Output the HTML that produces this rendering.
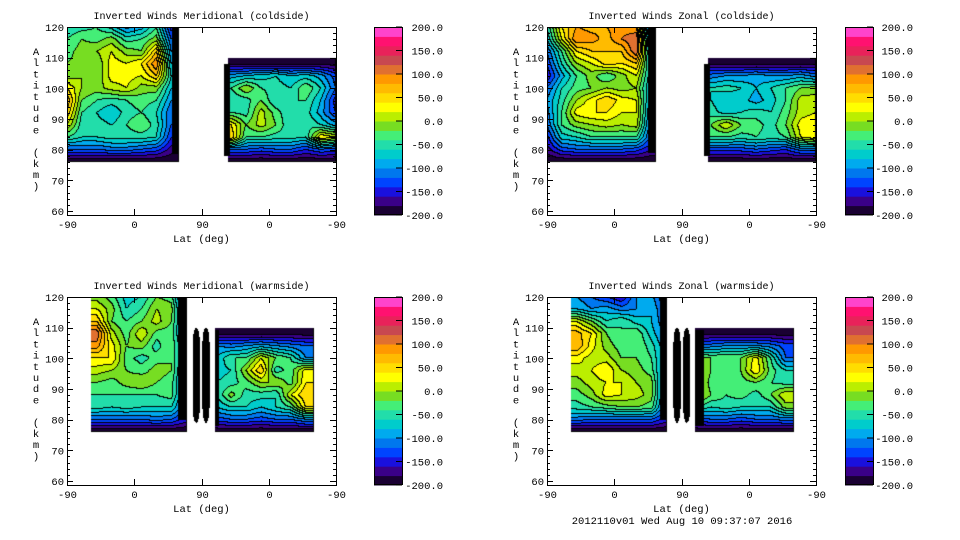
<!DOCTYPE html>
<html><head><meta charset="utf-8"><style>
body{margin:0;background:#fff;width:960px;height:540px;overflow:hidden;position:relative;font-family:"Liberation Mono",monospace;}
canvas{position:absolute;}
svg{position:absolute;left:0;top:0;}
</style></head><body>
<svg id="ax" width="960" height="540"></svg>
<script>
// colour bands, bottom (-200) to top (200)
const bandColors=["#1a0033","#3a0088","#1a10dd","#0044ff","#0077ee","#00aaee","#00cccc","#22ddaa","#44ee77","#77dd22","#bbee00","#ffff00","#ffdd00","#ffbb00","#ff9900","#e07030","#c84850","#e8225a","#ff1170","#ff44cc"];
const cbTickLabels=["200.0","150.0","100.0","50.0","0.0","-50.0","-100.0","-150.0","-200.0"];
const cbTickValues=[200,150,100,50,0,-50,-100,-150,-200];
const yTickValues=[60,70,80,90,100,110,120];
const xTickPos=[0,90,180,270,360];
const xTickLabels=["-90","0","90","0","-90"];
const leftAlts=[120,116,112,108,104,100,96,92,88,84,80,76];
const rightAlts=[108,104,100,96,92,88,84,80,76];
const cold8=[0,20,40,60,80,100,120,140];
const coldR=[220,240,260,280,300,320,340,360];
const warmL=[40,60,80,100,120,140,160];
const warmR=[200,220,240,260,280,300,320];
const m1L=[[-60,-50,-40,-70,-110,-90,-40,-150],[-40,-20,-30,-10,-50,-40,-10,-120],[-30,-10,0,20,-10,-20,60,-100],[-20,-10,-20,30,20,40,100,-80],[-10,0,-20,30,30,20,60,-60],[40,0,-10,10,20,-10,-10,-80],[80,-20,-40,-50,-40,-30,-40,-100],[60,-40,-60,-80,-50,-40,-60,-120],[20,-50,-50,-60,-40,-20,-50,-120],[-40,-60,-60,-50,-50,-50,-60,-140],[-120,-120,-120,-110,-110,-120,-130,-170],[-200,-200,-200,-200,-200,-200,-200,-200]];
const m1R=[[-190,-190,-190,-190,-190,-190,-190,-190],[-90,-80,-70,-60,-80,-70,-90,-130],[-40,0,-40,-50,-60,-20,-60,-120],[-60,-50,-20,-60,-40,-40,-80,-150],[-40,-50,10,-30,-60,-50,-90,-140],[40,-20,10,-20,-60,-40,-60,-90],[60,-40,-40,-50,-50,-60,40,20],[-120,-120,-130,-120,-120,-140,-120,-130],[-200,-200,-200,-200,-200,-200,-200,-200]];
const z1L=[[-60,40,80,70,80,90,80,-150],[-80,20,100,90,70,100,120,-120],[-120,-40,40,60,60,60,120,-100],[-140,-60,0,20,50,40,60,-80],[-160,-90,-40,-10,-40,-10,20,-80],[-120,-60,-30,-20,0,-10,0,-90],[-100,-50,0,30,60,30,20,-100],[-110,-40,30,40,40,20,20,-110],[-120,-40,-10,0,10,0,10,-120],[-150,-70,-60,-40,-40,-40,-40,-130],[-170,-130,-120,-120,-120,-120,-130,-160],[-200,-200,-200,-200,-200,-200,-200,-200]];
const z1R=[[-190,-190,-190,-190,-190,-190,-190,-190],[-110,-100,-100,-90,-100,-100,-90,-110],[-60,-50,-60,-80,-60,-40,-20,-10],[-60,-80,-70,-90,-70,-40,10,10],[-50,-70,-60,-50,-60,-30,10,20],[-20,20,-20,-30,-50,-20,30,40],[-40,-40,-50,-40,-50,-40,20,40],[-130,-130,-130,-120,-130,-140,-110,-110],[-200,-200,-200,-200,-200,-200,-200,-200]];
const m2L=[[-10,-30,-70,-60,-20,-30,-150],[20,-10,-60,-40,0,-10,-130],[60,-20,-40,-20,10,-20,-120],[120,10,-30,20,-30,-30,-110],[90,30,-20,-10,-50,-20,-100],[40,40,-30,-50,-30,-20,-100],[10,0,-20,-30,-10,-20,-110],[-20,-30,-10,0,-20,-30,-120],[-40,-40,-40,-40,-40,-30,-120],[-50,-60,-50,-60,-60,-60,-130],[-120,-120,-120,-120,-110,-120,-150],[-200,-200,-200,-200,-200,-200,-200]];
const m2R=[[-190,-190,-190,-190,-190,-190,-190],[-100,-110,-100,-90,-100,-110,-120],[-80,-40,-40,20,-20,-40,-100],[-70,-60,0,60,-50,-30,30],[-60,-50,-30,0,0,-30,40],[-60,-10,-50,-50,-60,20,60],[-80,-60,-60,-80,-60,-40,40],[-130,-120,-120,-130,-120,-120,-100],[-200,-200,-200,-200,-200,-200,-200]];
const z2L=[[-100,-120,-140,-160,-100,-90,-150],[-80,-100,-90,-110,-100,-80,-130],[20,-20,-60,-40,-70,-80,-120],[70,40,-20,-40,-20,-70,-110],[80,30,-10,-30,-20,-50,-100],[30,10,10,-20,-20,-40,-100],[10,20,40,0,-10,-30,-110],[-10,10,20,20,0,-10,-120],[-30,-10,30,20,10,-10,-120],[-50,-40,-30,-20,-20,-30,-130],[-110,-120,-120,-120,-120,-120,-150],[-200,-200,-200,-200,-200,-200,-200]];
const z2R=[[-190,-190,-190,-190,-190,-190,-190],[-120,-110,-100,-100,-100,-110,-130],[-10,-20,-20,-20,30,-40,-120],[20,-20,-30,-20,40,-30,-60],[20,-30,-30,-30,-20,-40,-50],[20,-20,-40,-30,-50,-20,20],[-40,-60,-50,-60,-60,-60,-10],[-130,-120,-120,-130,-120,-120,-110],[-200,-200,-200,-200,-200,-200,-200]];

const panels=[
 {name:"meridional-coldside",title:"Inverted Winds Meridional (coldside)",x:67,y:27,cb:374,lab:443,
  blocks:[{c0:0,c1:150,a0:76,a1:120,cols:cold8,alts:leftAlts,v:m1L},{c0:216,c1:360,a0:76,a1:110,cols:coldR,alts:rightAlts,v:m1R}],
  stripes:[[142,150,79,120,0],[210,218,78,108,0]]},
 {name:"zonal-coldside",title:"Inverted Winds Zonal (coldside)",x:547,y:27,cb:845,lab:913,
  blocks:[{c0:0,c1:146,a0:76,a1:120,cols:cold8,alts:leftAlts,v:z1L},{c0:216,c1:360,a0:76,a1:110,cols:coldR,alts:rightAlts,v:z1R}],
  stripes:[[136,146,79,120,0],[210,218,78,108,0]]},
 {name:"meridional-warmside",title:"Inverted Winds Meridional (warmside)",x:67,y:297,cb:374,lab:443,
  blocks:[{c0:32,c1:160,a0:76,a1:120,cols:warmL,alts:leftAlts,v:m2L},{c0:198,c1:330,a0:76,a1:110,cols:warmR,alts:rightAlts,v:m2R}],
  stripes:[[150,160,80,120,0],[168,178,79,110,1],[181,191,79,110,1],[198,204,78,109,0]]},
 {name:"zonal-warmside",title:"Inverted Winds Zonal (warmside)",x:547,y:297,cb:845,lab:913,
  blocks:[{c0:32,c1:161,a0:76,a1:120,cols:warmL,alts:leftAlts,v:z2L},{c0:198,c1:330,a0:76,a1:110,cols:warmR,alts:rightAlts,v:z2R}],
  stripes:[[152,161,80,120,0],[169,179,79,110,1],[182,192,79,110,1],[198,210,78,109,0]]}
];
const W=269,H=188,ALT_MIN=58.7,ALT_MAX=120;
const NS="http://www.w3.org/2000/svg";
const svg=document.getElementById('ax');
function sv(tag,attrs,parent){const e=document.createElementNS(NS,tag);for(const k in attrs)e.setAttribute(k,attrs[k]);(parent||svg).appendChild(e);return e;}
function xScale(p,c){return p.x+c/360*W;}
function yScale(p,a){return p.y+(ALT_MAX-a)/(ALT_MAX-ALT_MIN)*H;}
function seg(arr,x,desc){const n=arr.length;if(desc){if(x>=arr[0])return[0,0,0];if(x<=arr[n-1])return[n-1,n-1,0];for(let i=0;i<n-1;i++)if(x<=arr[i]&&x>=arr[i+1])return[i,i+1,(arr[i]-x)/(arr[i]-arr[i+1])];}
 else{if(x<=arr[0])return[0,0,0];if(x>=arr[n-1])return[n-1,n-1,0];for(let i=0;i<n-1;i++)if(x>=arr[i]&&x<=arr[i+1])return[i,i+1,(x-arr[i])/(arr[i+1]-arr[i])];}return[0,0,0];}
function valueAt(b,c,a){const[ci,cj,ct]=seg(b.cols,c,false);const[ri,rj,rt]=seg(b.alts,a,true);
 const v00=b.v[ri][ci],v01=b.v[ri][cj],v10=b.v[rj][ci],v11=b.v[rj][cj];
 return (v00*(1-ct)+v01*ct)*(1-rt)+(v10*(1-ct)+v11*ct)*rt;}
function band(v){return Math.max(0,Math.min(19,Math.floor((v+200)/20)));}
function inStripe(s,c,a){if(c<s[0]||c>s[1]||a<s[2]||a>s[3])return false;
 if(!s[4])return true;const cx=(s[0]+s[1])/2,rx=(s[1]-s[0])/2,cy=(s[2]+s[3])/2,ry=(s[3]-s[2])/2;
 const dx=(c-cx)/rx,dy=(a-cy)/ry;return dx*dx*1+Math.pow(Math.abs(dy),6)<=1;}

panels.forEach((p,pi)=>{
 const cv=document.createElement('canvas');cv.width=W;cv.height=H;cv.style.left=p.x+'px';cv.style.top=p.y+'px';
 
 
 document.body.insertBefore(cv,svg);
 const ctx=cv.getContext('2d');const img=ctx.createImageData(W,H);
 const B=new Int16Array(W*H).fill(-1);
 for(let py=0;py<H;py++){const a=ALT_MAX-(py+0.5)/H*(ALT_MAX-ALT_MIN);
  for(let px=0;px<W;px++){const c=(px+0.5)/W*360;let val=-1;
   for(const s of p.stripes){if(inStripe(s,c,a)){val=-2;break;}}
   if(val===-1)for(const b of p.blocks){if(c>=b.c0&&c<=b.c1&&a>=b.a0&&a<=b.a1){val=band(valueAt(b,c,a));break;}}
   B[py*W+px]=val;}}
 for(let py=0;py<H;py++)for(let px=0;px<W;px++){const i=py*W+px,v=B[i];let r=255,g=255,bl=255;
  if(v===-2){r=g=bl=0;}
  else if(v>=0){const r2=px<W-1?B[i+1]:-1,d2=py<H-1?B[i+W]:-1;
   if(r2!==v||d2!==v){r=g=bl=0;}else{const h=bandColors[v];r=parseInt(h.substr(1,2),16);g=parseInt(h.substr(3,2),16);bl=parseInt(h.substr(5,2),16);}}
  img.data[i*4]=r;img.data[i*4+1]=g;img.data[i*4+2]=bl;img.data[i*4+3]=255;}
 ctx.putImageData(img,0,0);

 const g=sv('g',{});
 
 
 const t=sv('text',{x:p.x+W/2,y:p.y-8,'text-anchor':'middle','font-size':'10','font-family':'Liberation Mono, monospace'},g);t.textContent=p.title;
 
 
 const fr=sv('rect',{x:p.x+0.5,y:p.y+0.5,width:W,height:H,fill:'none',stroke:'#000','stroke-width':1},g);
 
 
 for(let a=60;a<=120;a+=2){const y=Math.round(yScale(p,a))+0.5;const L=(a%10===0)?6:3;
  sv('line',{x1:p.x,x2:p.x+L,y1:y,y2:y,stroke:'#000'},g);sv('line',{x1:p.x+W,x2:p.x+W-L,y1:y,y2:y,stroke:'#000'},g);}
 yTickValues.forEach(a=>{const tl=sv('text',{x:p.x-3,y:yScale(p,a)+4,'text-anchor':'end','font-size':'10.5','font-family':'Liberation Mono, monospace'},g);tl.textContent=a;
  
  });
 xTickPos.forEach((c,i)=>{const x=Math.round(xScale(p,c))+0.5;sv('line',{x1:x,x2:x,y1:p.y+H,y2:p.y+H-6,stroke:'#000'},g);sv('line',{x1:x,x2:x,y1:p.y,y2:p.y+6,stroke:'#000'},g);
  const tl=sv('text',{x:x,y:p.y+H+13,'text-anchor':'middle','font-size':'10.5','font-family':'Liberation Mono, monospace'},g);tl.textContent=xTickLabels[i];
  
  });
 const xt=sv('text',{x:p.x+W/2,y:p.y+H+27,'text-anchor':'middle','font-size':'10.5','font-family':'Liberation Mono, monospace'},g);xt.textContent='Lat (deg)';
 
 
 const yt=sv('text',{x:p.x-31,y:p.y+28,'text-anchor':'middle','font-size':'10.5','font-family':'Liberation Mono, monospace'},g);
 
 
 "Altitude (km)".split('').forEach((ch,i)=>{const ts=sv('tspan',{x:p.x-31,dy:i===0?0:11.2},yt);ts.textContent=ch===' '?'\u00a0':ch;});
 const cb=sv('g',{},g);
 
 
 const bh=H/20;
 bandColors.forEach((col,i)=>{sv('rect',{x:p.cb,y:p.y+H-(i+1)*bh,width:28,height:bh+0.5,fill:col},cb);});
 sv('rect',{x:p.cb+0.5,y:p.y+0.5,width:28,height:H-1,fill:'none',stroke:'#000'},cb);
 cbTickValues.forEach((v,i)=>{const y=p.y+(200-v)/400*H;sv('line',{x1:p.cb+28,x2:p.cb+22,y1:y,y2:y,stroke:'#000'},cb);
  const tl=sv('text',{x:p.lab,y:y+4,'text-anchor':'end','font-size':'10.5','font-family':'Liberation Mono, monospace'},cb);tl.textContent=cbTickLabels[i];
  
  });
});
const ft=sv('text',{x:682,y:524,'text-anchor':'middle','font-size':'10.5','font-family':'Liberation Mono, monospace'});ft.textContent='2012110v01 Wed Aug 10 09:37:07 2016';


</script>
</body></html>
